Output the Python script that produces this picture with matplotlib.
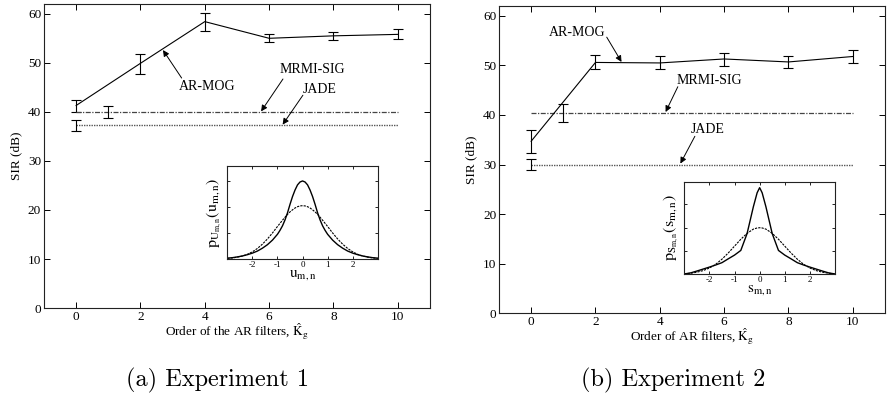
import matplotlib
matplotlib.use("Agg")
import matplotlib.pyplot as plt
import numpy as np

plt.rcParams['font.family'] = ['Liberation Serif', 'DejaVu Serif']
plt.rcParams['mathtext.fontset'] = 'stix'
plt.rcParams['axes.linewidth'] = 0.8
plt.rcParams['axes.edgecolor'] = '#222222'

# filter orders and SIR results
orders = [0, 2, 4, 6, 8, 10]

# experiment 1
armog1 = [41.3, 49.9, 58.4, 55.0, 55.5, 55.8]
armog1_lo = [40.0, 47.8, 56.4, 54.2, 54.6, 54.8]
armog1_hi = [42.5, 51.9, 60.2, 55.8, 56.3, 56.8]
mrmi1 = 40.0
mrmi1_lo, mrmi1_hi = 38.7, 41.1
jade1 = 37.3
jade1_lo, jade1_hi = 36.1, 38.4

# experiment 2
armog2 = [34.7, 50.6, 50.5, 51.3, 50.7, 51.8]
armog2_lo = [32.3, 49.3, 49.3, 49.9, 49.5, 50.5]
armog2_hi = [36.9, 52.1, 51.8, 52.6, 51.9, 53.2]
mrmi2 = 40.4
mrmi2_lo, mrmi2_hi = 38.6, 42.3
jade2 = 30.0
jade2_lo, jade2_hi = 28.9, 31.1

# source densities for the insets
u1 = [-3.0, -2.8, -2.6, -2.4, -2.2, -2.0, -1.8, -1.6, -1.4, -1.2,
      -1.0, -0.9, -0.8, -0.7, -0.6, -0.5, -0.4, -0.3, -0.2, -0.1, 0.0,
      0.1, 0.2, 0.3, 0.4, 0.5, 0.6, 0.7, 0.8, 0.9, 1.0,
      1.2, 1.4, 1.6, 1.8, 2.0, 2.2, 2.4, 2.6, 2.8, 3.0]
p_true1 = [0.006, 0.010, 0.016, 0.023, 0.033, 0.045, 0.061, 0.083, 0.110, 0.145,
           0.190, 0.220, 0.255, 0.300, 0.355, 0.420, 0.480, 0.530, 0.570, 0.592, 0.600,
           0.592, 0.570, 0.530, 0.480, 0.420, 0.355, 0.300, 0.255, 0.220, 0.190,
           0.145, 0.110, 0.083, 0.061, 0.045, 0.033, 0.023, 0.016, 0.010, 0.006]
p_gauss1 = [0.005, 0.008, 0.014, 0.023, 0.036, 0.055, 0.081, 0.114, 0.154, 0.200,
            0.250, 0.274, 0.298, 0.321, 0.343, 0.362, 0.378, 0.392, 0.402, 0.408, 0.410,
            0.408, 0.402, 0.392, 0.378, 0.362, 0.343, 0.321, 0.298, 0.274, 0.250,
            0.200, 0.154, 0.114, 0.081, 0.055, 0.036, 0.023, 0.014, 0.008, 0.005]

s2 = [-3.0, -2.75, -2.5, -2.25, -2.0, -1.75, -1.5, -1.25, -1.0, -0.75, -0.5, -0.25, -0.1, 0.0,
      0.1, 0.25, 0.5, 0.75, 1.0, 1.25, 1.5, 1.75, 2.0, 2.25, 2.5, 2.75, 3.0]
p_true2 = [0.003, 0.012, 0.028, 0.045, 0.062, 0.080, 0.100, 0.133, 0.165, 0.205, 0.350, 0.580, 0.700, 0.744,
           0.700, 0.580, 0.350, 0.205, 0.165, 0.133, 0.100, 0.080, 0.062, 0.045, 0.028, 0.012, 0.003]
p_gauss2 = [0.004, 0.009, 0.018, 0.032, 0.054, 0.086, 0.130, 0.183, 0.242, 0.301, 0.352, 0.388, 0.398, 0.400,
            0.398, 0.388, 0.352, 0.301, 0.242, 0.183, 0.130, 0.086, 0.054, 0.032, 0.018, 0.009, 0.004]

fig = plt.figure(figsize=(8.88, 3.96), dpi=100)
ax1 = fig.add_axes([0.0495, 0.222, 0.4347, 0.768])
ax2 = fig.add_axes([0.5619, 0.209, 0.4347, 0.776])

bar_kw = dict(elinewidth=0.8, capsize=3.6, capthick=0.8)


def draw_panel(ax, sir, lo, hi, mrmi, m_lo, m_hi, jade, j_lo, j_hi, xlabel):
    sir = np.array(sir)
    yerr = [sir - np.array(lo), np.array(hi) - sir]
    ax.errorbar(orders, sir, yerr=yerr, color='k', lw=0.8, **bar_kw)
    ax.plot([orders[0], orders[-1]], [mrmi, mrmi], color='#444444', lw=0.9,
            linestyle=(0, (4, 1.2, 1, 1.2)))
    ax.plot([orders[0], orders[-1]], [jade, jade], color='#555555', lw=1.0,
            linestyle=(0, (1, 0.8)))
    ax.errorbar([1], [mrmi], yerr=[[mrmi - m_lo], [m_hi - mrmi]], fmt='none',
                ecolor='k', **bar_kw)
    ax.errorbar([0], [jade], yerr=[[jade - j_lo], [j_hi - jade]], fmt='none',
                ecolor='k', **bar_kw)
    ax.set_xlim(-1, 11)
    ax.set_ylim(0, 62)
    ax.set_xticks([0, 2, 4, 6, 8, 10])
    ax.set_yticks([0, 10, 20, 30, 40, 50, 60])
    ax.tick_params(direction='in', top=True, right=True, length=4, width=0.7,
                   labelsize=9.5, pad=2)
    ax.set_ylabel('SIR (dB)', fontsize=9.5, labelpad=4)
    ax.set_xlabel(xlabel, fontsize=9.5, labelpad=-1)


draw_panel(ax1, armog1, armog1_lo, armog1_hi, mrmi1, mrmi1_lo, mrmi1_hi,
           jade1, jade1_lo, jade1_hi, r'Order of the AR filters, $\hat{\mathrm{K}}_{\mathrm{g}}$')
draw_panel(ax2, armog2, armog2_lo, armog2_hi, mrmi2, mrmi2_lo, mrmi2_hi,
           jade2, jade2_lo, jade2_hi, r'Order of AR filters, $\hat{\mathrm{K}}_{\mathrm{g}}$')

arrow = dict(arrowstyle='-|>', color='k', lw=0.7, mutation_scale=9,
             shrinkA=0, shrinkB=0)


def label(ax, text, text_xy, tail, head):
    ax.text(text_xy[0], text_xy[1], text, fontsize=10, ha='center', va='center')
    ax.annotate('', xy=head, xytext=tail, arrowprops=arrow)


label(ax1, 'AR-MOG', (4.07, 45.1), (3.28, 46.9), (2.7, 52.6))
label(ax1, 'MRMI-SIG', (7.33, 48.6), (6.43, 46.7), (5.75, 40.1))
label(ax1, 'JADE', (7.58, 44.6), (7.05, 43.4), (6.42, 37.4))

label(ax2, 'AR-MOG', (1.42, 56.7), (2.35, 55.7), (2.81, 50.7))
label(ax2, 'MRMI-SIG', (5.54, 47.0), (4.56, 45.7), (4.18, 40.6))
label(ax2, 'JADE', (5.5, 37.0), (5.09, 35.7), (4.64, 30.2))


def draw_inset(rect, x, p_true, p_gauss, ytop, xlabel, ylabel):
    ax = fig.add_axes(rect)
    ax.plot(x, p_true, color='k', lw=1.0)
    ax.plot(x, p_gauss, color='k', lw=0.8, linestyle=(0, (2, 1)))
    ax.set_xlim(-3, 3)
    ax.set_ylim(0, ytop)
    ax.set_xticks([-2, -1, 0, 1, 2])
    ax.set_xticklabels(['-2', '-1', '0', '1', '2'])
    ax.set_yticks([0.2, 0.4, 0.6])
    ax.set_yticklabels([])
    ax.tick_params(direction='in', top=True, right=True, length=2.5, width=0.6,
                   labelsize=6.5, pad=1.5)
    ax.set_xlabel(xlabel, fontsize=11, labelpad=-1)
    ax.set_ylabel(ylabel, fontsize=11.5, labelpad=1)
    return ax


draw_inset([0.256, 0.346, 0.1694, 0.2348], u1, p_true1, p_gauss1, 0.715,
           r'$\mathrm{u}_{\mathrm{m,n}}$',
           r'$\mathrm{p}_{\mathrm{U}_{\mathrm{m,n}}}(\mathrm{u}_{\mathrm{m,n}})$')
draw_inset([0.7706, 0.3073, 0.1697, 0.2338], s2, p_true2, p_gauss2, 0.795,
           r'$\mathrm{s}_{\mathrm{m,n}}$',
           r'$\mathrm{p}_{\mathrm{S}_{\mathrm{m,n}}}(\mathrm{s}_{\mathrm{m,n}})$')

# sub-figure captions
fig.text(217 / 888, 1 - 380 / 396, '(a) Experiment 1', family='cmr10',
         fontsize=17.5, ha='center', va='center')
fig.text(673 / 888, 1 - 380 / 396, '(b) Experiment 2', family='cmr10',
         fontsize=17.5, ha='center', va='center')

fig.savefig('out.png', dpi=100)
